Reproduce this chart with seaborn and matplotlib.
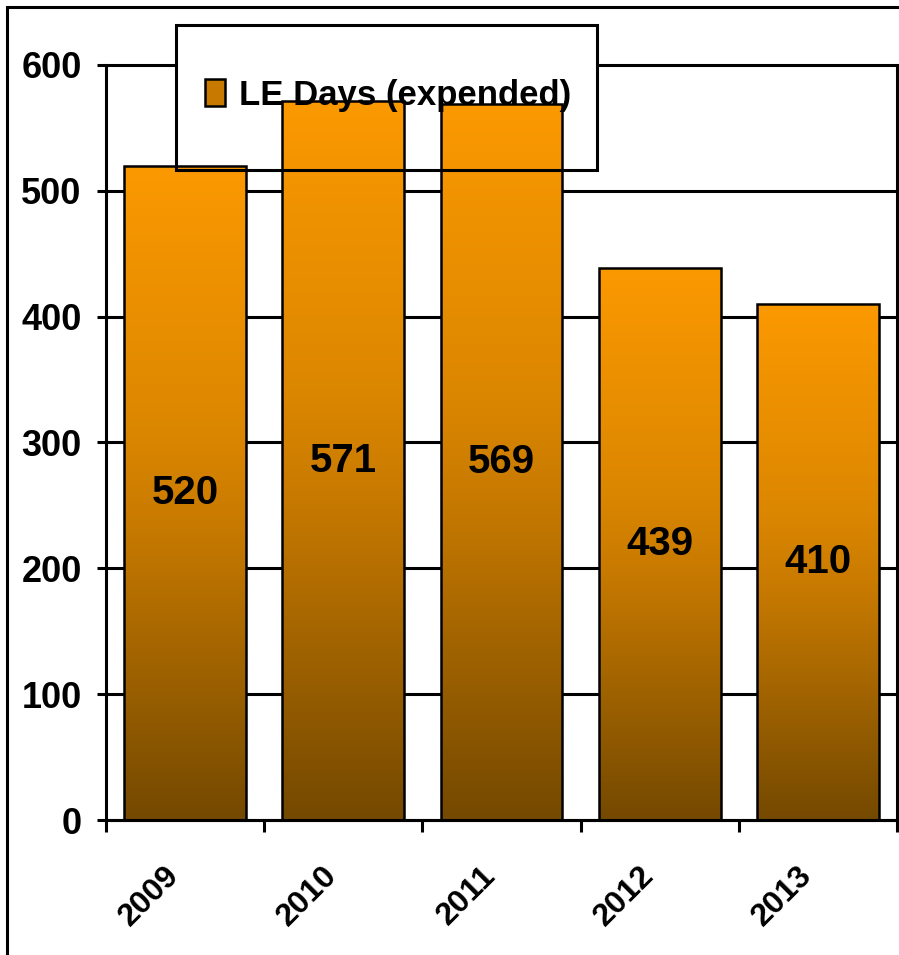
import numpy as np
import pandas as pd
import matplotlib.pyplot as plt
import seaborn as sns
from matplotlib.patches import Rectangle, Patch
from matplotlib.colors import LinearSegmentedColormap

# ---------------------------
# data
# ---------------------------
years = ["2009", "2010", "2011", "2012", "2013"]
le_days = [520, 571, 569, 439, 410]
y_ticks = [0, 100, 200, 300, 400, 500, 600]
legend_label = "LE Days (expended)"

sns.set_theme(style="white")
plt.rcParams["font.family"] = ["Liberation Sans Narrow", "Liberation Sans", "DejaVu Sans"]
plt.rcParams["font.weight"] = "bold"
for key in ["text.color", "xtick.color", "ytick.color", "axes.labelcolor"]:
    plt.rcParams[key] = "black"

df = pd.DataFrame({"year": years, "days": le_days})

W, H = 899, 955
fig = plt.figure(figsize=(W / 100, H / 100), dpi=100)
ax = fig.add_axes([106 / W, 135 / H, 791 / W, 755 / H])

sns.barplot(data=df, x="year", y="days", width=0.77, color="#FB9900",
            edgecolor="black", linewidth=1.8, ax=ax, zorder=3)

# gradient fill per bar (orange on top -> brown at bottom)
cmap = LinearSegmentedColormap.from_list(
    "bar", [(0.0, "#744900"), (0.45, "#C87A00"), (0.6, "#DC8700"), (1.0, "#FB9900")])
grad = np.linspace(0, 1, 256).reshape(-1, 1)
for p in ax.patches:
    x0, y0 = p.get_x(), p.get_y()
    im = ax.imshow(grad, cmap=cmap, origin="lower", aspect="auto",
                   extent=[x0, x0 + p.get_width(), y0, y0 + p.get_height()],
                   zorder=2.5)
    im.set_clip_path(p)
    p.set_facecolor("none")

texts = ax.bar_label(ax.containers[0], label_type="center", fontsize=29,
                     fontweight="bold")
for t in texts:
    t.set_zorder(4)

ax.set_xlim(-0.5, 4.5)
ax.set_ylim(0, 600)

# gridlines
for y in y_ticks:
    ax.axhline(y, color="black", lw=2.2, zorder=0.5, clip_on=False)

# spines
ax.spines["top"].set_visible(False)
for s in ["left", "right", "bottom"]:
    ax.spines[s].set_color("black")
    ax.spines[s].set_linewidth(2.2)

ax.set_yticks(y_ticks)
ax.tick_params(axis="y", left=True, length=6.5, width=2.2, pad=11,
               labelsize=26)

ax.set_xticks(np.arange(-0.5, 5, 1), minor=True)
ax.tick_params(axis="x", which="minor", bottom=True, length=8.6, width=2.2)
ax.tick_params(axis="x", which="major", bottom=True, length=0, pad=29,
               labelsize=23)
for lab in ax.get_xticklabels():
    lab.set_rotation(45)
    lab.set_ha("right")
    lab.set_va("top")
ax.set_xlabel("")
ax.set_ylabel("")

# legend: white fill sits under the bars, frame and text on top
lx, ly, lw_, lh = 176 / W, 1 - 170 / H, 421 / W, 145 / H
fill = Rectangle((lx, ly), lw_, lh, transform=fig.transFigure,
                 facecolor="white", edgecolor="none", zorder=1, clip_on=False)
ax.add_artist(fill)
frame = Rectangle((lx, ly), lw_, lh, transform=fig.transFigure,
                  facecolor="none", edgecolor="black", lw=2.2, zorder=6,
                  clip_on=False)
ax.add_artist(frame)

handle = Patch(facecolor="#C87A00", edgecolor="black", linewidth=1.8,
               label=legend_label)
leg = ax.legend(handles=[handle], loc="center",
                bbox_to_anchor=(388 / W, 1 - 95 / H),
                bbox_transform=fig.transFigure, frameon=False, fontsize=25,
                handlelength=0.6, handleheight=0.85, handletextpad=0.4)
leg.set_zorder(5)

# outer chart border (top and left visible)
border = Rectangle((7 / W, -0.2), 1.5, 1.2 - 7 / H, transform=fig.transFigure,
                   facecolor="none", edgecolor="black", lw=2.2)
fig.add_artist(border)

plt.savefig("out.png", dpi=100)
